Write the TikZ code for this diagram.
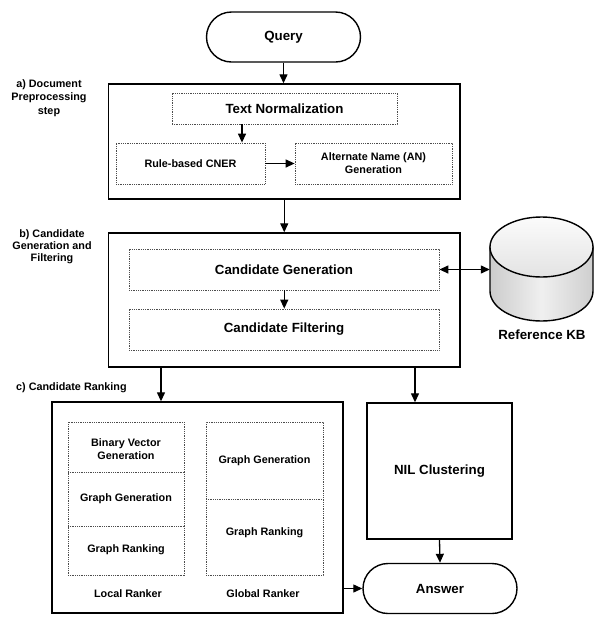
\documentclass[tikz,border=0pt]{standalone}
\usepackage{fontspec}
\setmainfont{Liberation Sans}
\usetikzlibrary{arrows.meta,shapes.misc}
\begin{document}
\begin{tikzpicture}[x=1pt,y=-1pt,
  big/.style={font=\bfseries\fontsize{13.3}{16}\selectfont},
  small/.style={font=\bfseries\fontsize{10.8}{12.8}\selectfont},
  mainbox/.style={draw, line width=1.4pt, inner sep=0pt},
  pill/.style={draw, line width=1.4pt, rounded rectangle, inner sep=0pt, big},
  dotline/.style={draw=gray!60!black, dash pattern=on 0.9pt off 0.9pt, line width=0.8pt},
  dotbox/.style={dotline, inner sep=0pt, align=center},
  txt/.style={small, inner sep=0pt, align=center},
  arr/.style={-{Triangle[length=9pt,width=8pt]}, line width=1.3pt},
  darr/.style={{Triangle[length=9pt,width=8pt]}-{Triangle[length=9pt,width=8pt]}, line width=1.3pt},
  lbl/.style={small, align=center, inner sep=0pt}
]
\useasboundingbox (0,0) rectangle (603,630);

% Query
\node[pill, minimum width=154, minimum height=50] (query) at (283.5,37) {Query};

% Box a
\node[mainbox, minimum width=351.5, minimum height=115] (boxa) at (284.25,141.5) {};
\node[dotbox, big, minimum width=225, minimum height=31] (tn) at (284.5,108.5) {Text Normalization};
\node[dotbox, small, minimum width=149, minimum height=41] (cner) at (190.5,163.5) {Rule-based CNER};
\node[dotbox, small, minimum width=157, minimum height=41] (an) at (373.5,163.5) {Alternate Name (AN)\\Generation};
\node[lbl] (la) at (49,98) {a) Document\\[0.6pt]Preprocessing\\[0.6pt]step};

\draw[arr] (query.south) -- (query.south |- boxa.north);
\coordinate (tnx) at (242,0);
\draw[arr] (tn.south -| tnx) -- (cner.north -| tnx);
\draw[arr] (cner.east) -- (an.west);

% Box b
\node[mainbox, minimum width=351.5, minimum height=134] (boxb) at (284.25,300) {};
\node[dotbox, big, minimum width=310, minimum height=41] (cg) at (284,269.5) {Candidate Generation};
\node[dotbox, big, minimum width=310, minimum height=41] (cf) at (284,329.5) {Candidate Filtering};
\node[lbl] (lb) at (52,247) {b) Candidate\\[-0.8pt]Generation and\\[-0.8pt]Filtering};

\draw[arr] (boxa.south) -- (boxb.north);
\draw[arr] (cg.south -| boxb.north) -- (cf.north -| boxb.north);

% Reference KB cylinder
\path[left color=gray!40, right color=gray!38, middle color=gray!12, draw=black, line width=1.4pt]
  (490,247) -- (490,291) arc[start angle=180, end angle=360, x radius=51.5, y radius=-30] -- (593,247) -- cycle;
\draw[line width=1.4pt, top color=gray!3, bottom color=gray!22] (541.5,247) ellipse[x radius=51.5, y radius=30];
\node[inner sep=0pt, minimum width=103, minimum height=104] (kb) at (541.5,269) {};
\node[big, inner sep=0pt] (kblabel) at (542,335) {Reference KB};
\draw[darr] (cg.east) -- (kb.west |- cg.east);

% Box c
\node[mainbox, minimum width=291, minimum height=211] (boxc) at (197.5,507.5) {};
\node[small, inner sep=0pt, anchor=west] (lc) at (16,388) {c) Candidate Ranking};
% local ranker column
\node[dotbox, minimum width=116, minimum height=153] (lcol) at (126,498.5) {};
\draw[dotline] (68,472) -- (184,472);
\draw[dotline] (68,526) -- (184,526);
\node[txt] (l1) at (126,449) {Binary Vector\\Generation};
\node[txt] (l2) at (126,498.5) {Graph Generation};
\node[txt] (l3) at (126,549.5) {Graph Ranking};
% global ranker column
\node[dotbox, minimum width=117, minimum height=153] (gcol) at (264.5,498.5) {};
\draw[dotline] (206,499) -- (323,499);
\node[txt] (g1) at (264.5,460.5) {Graph Generation};
\node[txt] (g2) at (264.5,533) {Graph Ranking};
\node[small, inner sep=0pt] (lr) at (128,594) {Local Ranker};
\node[small, inner sep=0pt] (gr) at (263,594) {Global Ranker};

% NIL + Answer
\node[mainbox, big, minimum width=145, minimum height=136] (nil) at (439.5,471) {NIL Clustering};
\node[pill, minimum width=154, minimum height=50] (answer) at (440,588.5) {Answer};

\coordinate (bx1) at (161,0);
\coordinate (bx2) at (415,0);
\draw[arr] (boxb.south -| bx1) -- (boxc.north -| bx1);
\draw[arr] (boxb.south -| bx2) -- (nil.north -| bx2);
\draw[arr] (nil.south) -- (answer.north);
\draw[arr] (boxc.east |- answer.west) -- (answer.west);
\end{tikzpicture}
\end{document}
